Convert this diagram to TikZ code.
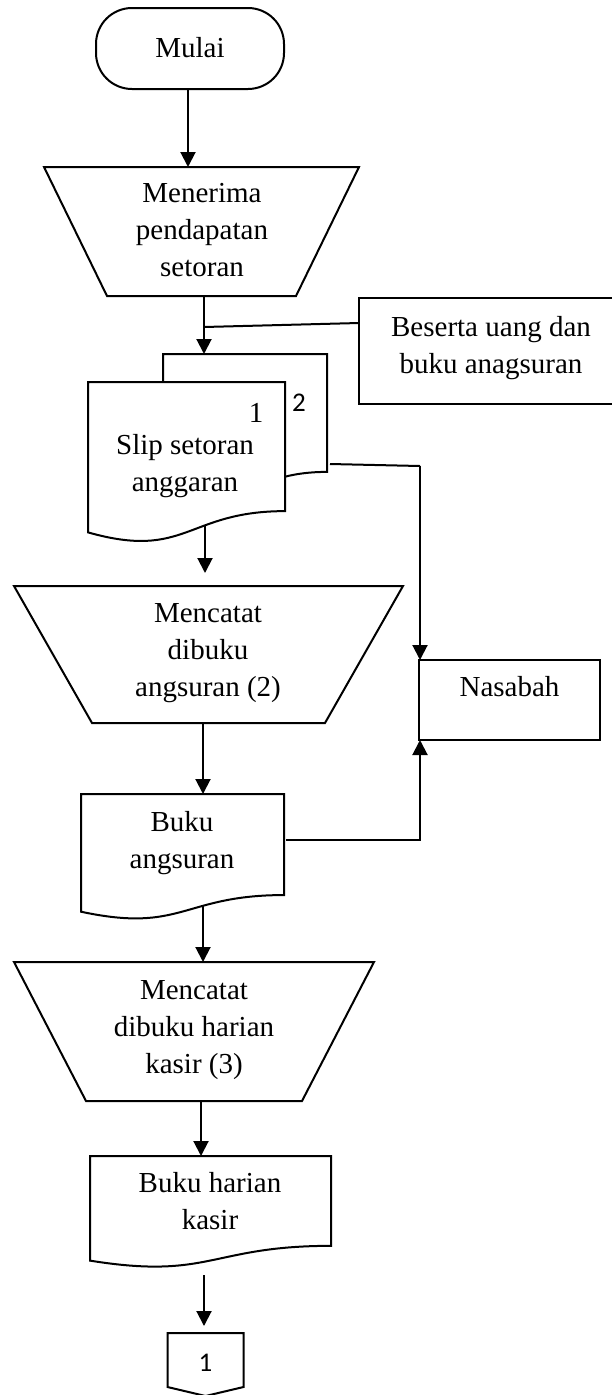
\documentclass[tikz,border=0pt]{standalone}
\usepackage{fontspec}
\setmainfont{Liberation Serif}
\newfontfamily\digitfont{Carlito}
\usetikzlibrary{arrows.meta,calc}

% trapezoid (manual operation) drawn on the frame of node #1, bottom inset #2
\newcommand\trapz[2]{%
  \draw[outline] (#1.north west) -- (#1.north east)
    -- ([xshift=-#2]#1.south east) -- ([xshift=#2]#1.south west) -- cycle;}
% document symbol with a wavy bottom, drawn on the frame of node #1
\newcommand\docpath[1]{%
  \draw[outline] let \p1=(#1.north west), \p2=(#1.south east) in
    (\x1,\y1) -- (\x2,\y1) -- (\x2,{\y1-0.802*(\y1-\y2)})
    .. controls ({(\x1+\x2)/2},{\y1-0.802*(\y1-\y2)})
            and ({(\x1+\x2)/2},{\y1-1.1075*(\y1-\y2)})
    .. (\x1,{\y1-0.934*(\y1-\y2)}) -- cycle;}

\begin{document}
\begin{tikzpicture}[x=1pt,y=-1pt,
  frame/.style={draw=none,inner sep=0pt,outer sep=0pt},
  outline/.style={draw=black,line width=2pt,fill=white},
  txt/.style={font=\fontsize{29}{37}\selectfont,align=center,inner sep=0pt},
  num/.style={font=\digitfont\fontsize{27}{30}\selectfont,inner sep=0pt},
  flow/.style={-{Triangle[length=15pt,width=15pt]},line width=2pt},
  plain/.style={line width=2pt}]

\useasboundingbox (0,0) rectangle (611,1395);

% start terminal
\node[frame,minimum width=188,minimum height=81] (mulai) at (190,48.5) {};
\draw[outline,rounded corners=36] (mulai.north west) rectangle (mulai.south east);
\node[txt] (mulaiT) at (190,48) {Mulai};

% receiving the deposit
\node[frame,minimum width=315,minimum height=129] (trap1) at (201.5,231.5) {};
\trapz{trap1}{63}
\node[txt] (trap1T) at (202,230) {Menerima\\pendapatan\\setoran};

% note box on the right (runs past the page edge)
\node[frame,minimum width=266,minimum height=106] (bes) at (492,351) {};
\draw[outline] (bes.north west) rectangle (bes.south east);
\node[txt] (besT) at (491,348) {Beserta uang dan\\buku anagsuran};

% deposit slip, two copies
\node[frame,minimum width=164,minimum height=147] (slip2) at (245,427.5) {};
\node[frame,minimum width=197,minimum height=161] (slip1) at (186.5,462.5) {};
\docpath{slip2}
\docpath{slip1}
\node[txt] (slipT) at (185,465.7) {Slip setoran\\anggaran};
\node[txt] (slipA) at (256,413) {1};
\node[num] (slipB) at (299,403) {2};

% recording in the instalment book
\node[frame,minimum width=389,minimum height=137] (trap2) at (208.5,654.5) {};
\trapz{trap2}{78}
\node[txt] (trap2T) at (208,653.5) {Mencatat\\dibuku\\angsuran (2)};

% customer
\node[frame,minimum width=181,minimum height=80] (nas) at (509.5,700) {};
\draw[outline] (nas.north west) rectangle (nas.south east);
\node[txt] (nasT) at (509.5,687) {Nasabah};

% instalment book
\node[frame,minimum width=203,minimum height=126] (buku) at (182.5,857) {};
\docpath{buku}
\node[txt] (bukuT) at (182,843.2) {Buku\\angsuran};

% recording in the cashier's daily book
\node[frame,minimum width=360,minimum height=139] (trap3) at (194,1031.5) {};
\trapz{trap3}{72}
\node[txt] (trap3T) at (194,1030) {Mencatat\\dibuku harian\\kasir (3)};

% cashier's daily book
\node[frame,minimum width=241,minimum height=112] (kasir) at (210.5,1212) {};
\docpath{kasir}
\node[txt] (kasirT) at (210,1200.6) {Buku harian\\kasir};

% off-page connector
\node[frame,minimum width=76,minimum height=63] (conn) at (205.5,1364.5) {};
\draw[outline] (conn.north west) -- (conn.north east) -- ([yshift=9]conn.south east)
  -- (conn.south) -- ([yshift=9]conn.south west) -- cycle;
\node[num] (connT) at (205.5,1363) {1};

% connectors
\coordinate (j1) at (204,327);
\coordinate (j2) at (420,466);
\draw[flow] ([xshift=-2]mulai.south) -- ([xshift=-2]mulai.south |- trap1.north);
\draw[plain] ([yshift=-25]bes.north west) -- (j1);
\draw[flow] ([xshift=2.5]trap1.south) -- ([xshift=2.5]trap1.south |- slip2.north);
\draw[plain] ([xshift=3,yshift=-36.5]slip2.east) -- (j2);
\draw[flow] (j2) -- ([xshift=1]nas.north west);
\draw[flow,shorten >=13pt] ([xshift=18.5,yshift=18]slip1.south)
  -- ([xshift=18.5]slip1.south |- trap2.north);
\draw[flow] ([xshift=-5.5]trap2.south) -- ([xshift=-5.5]trap2.south |- buku.north);
\draw[flow] ([xshift=2,yshift=17]buku.east) -| ([xshift=1]nas.south west);
\draw[flow] ([xshift=20.5,yshift=15]buku.south) -- ([xshift=20.5]buku.south |- trap3.north);
\draw[flow] ([xshift=7]trap3.south) -- ([xshift=7]trap3.south |- kasir.north);
\draw[flow,shorten >=7pt] ([xshift=-6.5,yshift=-7]kasir.south)
  -- ([xshift=-6.5]kasir.south |- conn.north);
\end{tikzpicture}
\end{document}
